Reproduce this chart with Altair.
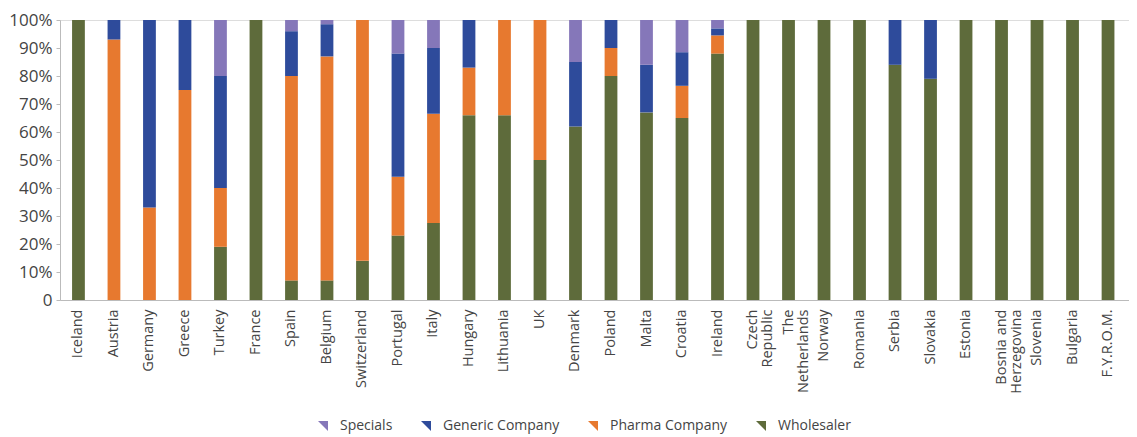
import altair as alt
import pandas as pd

countries = [
    "Iceland", "Austria", "Germany", "Greece", "Turkey", "France", "Spain",
    "Belgium", "Switzerland", "Portugal", "Italy", "Hungary", "Lithuania", "UK",
    "Denmark", "Poland", "Malta", "Croatia", "Ireland", "Czech\nRepublic",
    "The\nNetherlands", "Norway", "Romania", "Serbia", "Slovakia", "Estonia",
    "Bosnia and\nHerzegovina", "Slovenia", "Bulgaria", "F.Y.R.O.M.", "Latvia",
]
wholesaler = [100, 0, 0, 0, 19, 100, 7, 7, 14, 23, 27.5, 66, 66, 50, 62, 80, 67, 65, 88,
              100, 100, 100, 100, 84, 79, 100, 100, 100, 100, 100, 100]
pharma = [0, 93, 33, 75, 21, 0, 73, 80, 86, 21, 39, 17, 34, 50, 0, 10, 0, 11.5, 6.5,
          0, 0, 0, 0, 0, 0, 0, 0, 0, 0, 0, 0]
generic = [0, 7, 67, 25, 40, 0, 16, 11.5, 0, 44, 23.5, 17, 0, 0, 23, 10, 17, 12, 2.5,
           0, 0, 0, 0, 16, 21, 0, 0, 0, 0, 0, 0]
specials = [0, 0, 0, 0, 20, 0, 4, 1.5, 0, 12, 10, 0, 0, 0, 15, 0, 16, 11.5, 3,
            0, 0, 0, 0, 0, 0, 0, 0, 0, 0, 0, 0]

series_names = ["Specials", "Generic Company", "Pharma Company", "Wholesaler"]
series_colors = ["#8577B9", "#2E4B9B", "#E7792F", "#5E6B3B"]
y_ticks = [0, 10, 20, 30, 40, 50, 60, 70, 80, 90, 100]

rows = []
stack_series = [("Wholesaler", wholesaler), ("Pharma Company", pharma),
                ("Generic Company", generic), ("Specials", specials)]
for i, c in enumerate(countries):
    for rank, (name, vals) in enumerate(stack_series):
        rows.append({"country": c, "series": name, "value": vals[i], "rank": rank})
df = pd.DataFrame(rows)

FONT = "Open Sans"

chart = alt.Chart(df).mark_bar().encode(
    x=alt.X(
        "country:N", sort=countries,
        scale=alt.Scale(range=[0, 1102], paddingInner=0.64, paddingOuter=0.34),
        axis=alt.Axis(
            title=None, labelAngle=-90, ticks=False, domainColor="#bbbbbb",
            labelFont=FONT, labelFontSize=14.5, labelColor="#444444",
            labelExpr="split(datum.label, '\\n')", labelPadding=9,
            labelLineHeight=15, labelOverlap=False,
        ),
    ),
    y=alt.Y(
        "value:Q", stack="zero",
        scale=alt.Scale(domain=[0, 100], nice=False),
        axis=alt.Axis(
            title=None, values=y_ticks, grid=False,
            labelExpr="datum.value == 0 ? '0' : datum.value + '%'",
            labelFont=FONT, labelFontSize=17, labelColor="#444444",
            domainColor="#bbbbbb", tickColor="#bbbbbb", tickSize=4, labelPadding=4,
        ),
    ),
    color=alt.Color(
        "series:N",
        scale=alt.Scale(domain=series_names, range=series_colors),
        legend=alt.Legend(
            title=None, orient="none", legendX=256, legendY=399,
            direction="horizontal", symbolType="M-1,-1L1,-1L1,1Z",
            symbolSize=100, symbolStrokeWidth=0, labelFont=FONT,
            labelFontSize=14, labelColor="#444444", columnPadding=26,
            labelOffset=10, padding=0,
        ),
    ),
    order=alt.Order("rank:Q"),
).properties(
    width=1069, height=280,
    autosize=alt.AutoSizeParams(type="none"),
    padding={"left": 52, "top": 12, "right": 0, "bottom": 134},
).configure_view(stroke=None).configure(background="white")

chart.save("out.html", embed_options={"renderer": "svg", "actions": False})
